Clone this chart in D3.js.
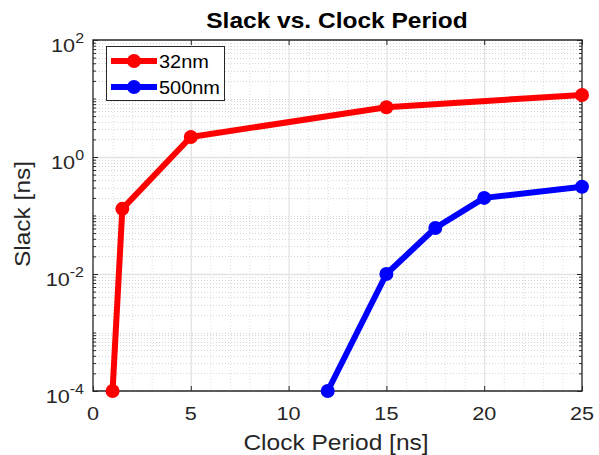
<!DOCTYPE html>
<html><head><meta charset="utf-8">
<script src="https://cdn.jsdelivr.net/npm/d3@7"></script>
<style>body{margin:0;background:#fff}svg{display:block}</style>
</head><body><svg id="chart" width="599" height="455"></svg>
<script>
// Slack measured at each clock period, per technology node
const clockPeriod32 = [1, 1.5, 5, 15, 25];
const slack32 = [1e-4, 0.13, 2.2, 7.1, 11.5];
const clockPeriod500 = [12, 15, 17.5, 20, 25];
const slack500 = [1e-4, 0.01, 0.061, 0.2, 0.31];
const seriesNames = ["32nm", "500nm"];
const seriesColors = ["#ff0000", "#0000ff"];
const xTicks = [0, 5, 10, 15, 20, 25];
const yTickExponents = [-4, -2, 0, 2];

const FONT = "'Liberation Sans', Arial, Helvetica, sans-serif";
const SX = 1.14;          // horizontal glyph stretch of the lettering
const AXIS = "#262626";

const svg = d3.select("#chart");
const box = {l: 93, r: 582, t: 40, b: 391};
const x = d3.scaleLinear().domain([0, 25]).range([box.l, box.r]);
const y = d3.scaleLog().domain([1e-4, 1e2]).range([box.b, box.t]);

// text helper: positioned via transform so it can be widened
function txt(g, px, py, s, size, anchor, weight, rot) {
  return g.append("text")
    .attr("transform", `translate(${px},${py})${rot ? ` rotate(${rot})` : ""} scale(${SX},1)`)
    .attr("text-anchor", anchor || "middle")
    .attr("font-family", FONT)
    .attr("font-size", size)
    .attr("font-weight", weight || "normal")
    .attr("fill", "#262626")
    .text(s);
}

// grid values
const majorY = yTickExponents.map(e => Math.pow(10, e));
const minorY = [];
for (let d = -4; d < 2; d++) {
  for (let k = 1; k <= 9; k++) {
    const v = k * Math.pow(10, d);
    if (k === 1 && yTickExponents.includes(d)) continue;
    minorY.push(v);
  }
}
const minorX = d3.range(1, 25).filter(v => v % 5 !== 0);

const grid = svg.append("g");
// minor grid (dotted)
grid.selectAll("line.mx").data(minorX).join("line")
  .attr("x1", d => x(d) + 0.5).attr("x2", d => x(d) + 0.5)
  .attr("y1", box.t).attr("y2", box.b)
  .attr("stroke", "#e0e0e0").attr("stroke-width", 1).attr("stroke-dasharray", "1,2");
grid.selectAll("line.my").data(minorY).join("line")
  .attr("x1", box.l).attr("x2", box.r)
  .attr("y1", d => Math.round(y(d)) + 0.5).attr("y2", d => Math.round(y(d)) + 0.5)
  .attr("stroke", "#d6d6d6").attr("stroke-width", 1).attr("stroke-dasharray", "1,2");
// major grid (solid light)
grid.selectAll("line.Mx").data(xTicks.slice(1, -1)).join("line")
  .attr("x1", d => x(d) + 0.5).attr("x2", d => x(d) + 0.5)
  .attr("y1", box.t).attr("y2", box.b)
  .attr("stroke", "#e3e3e3").attr("stroke-width", 1.3);
grid.selectAll("line.My").data(majorY.slice(1, -1)).join("line")
  .attr("x1", box.l).attr("x2", box.r)
  .attr("y1", d => Math.round(y(d)) + 0.5).attr("y2", d => Math.round(y(d)) + 0.5)
  .attr("stroke", "#e3e3e3").attr("stroke-width", 1.3);

// tick marks from d3 axes (inward, on all four sides)
function ticks(axis, tx, ty) {
  const g = svg.append("g").attr("transform", `translate(${tx},${ty})`).call(axis);
  g.select(".domain").remove();
  g.selectAll(".tick line").attr("stroke", AXIS).attr("stroke-width", 1);
  g.selectAll(".tick text").remove();
  return g;
}
ticks(d3.axisBottom(x).tickValues(xTicks).tickSize(-5).tickFormat(""), 0, box.b);
ticks(d3.axisTop(x).tickValues(xTicks).tickSize(-5).tickFormat(""), 0, box.t);
ticks(d3.axisLeft(y).tickValues(majorY).tickSize(-5).tickFormat(""), box.l, 0);
ticks(d3.axisRight(y).tickValues(majorY).tickSize(-5).tickFormat(""), box.r, 0);
ticks(d3.axisLeft(y).tickValues(minorY).tickSize(-3).tickFormat(""), box.l, 0);
ticks(d3.axisRight(y).tickValues(minorY).tickSize(-3).tickFormat(""), box.r, 0);

// axes box
svg.append("path")
  .attr("d", `M${box.l},${box.t}H${box.r}V${box.b}H${box.l}Z`)
  .attr("fill", "none").attr("stroke", AXIS).attr("stroke-width", 1.3);

// x tick labels
xTicks.forEach(v => txt(svg, x(v), 420, String(v), 19, "middle"));

// y tick labels: 10 with superscript exponent
yTickExponents.forEach(e => {
  const py = y(Math.pow(10, e));
  const t = svg.append("text")
    .attr("transform", `translate(84,${py + 11.5}) scale(${SX},1)`)
    .attr("text-anchor", "end")
    .attr("font-family", FONT).attr("fill", "#262626");
  t.append("tspan").attr("font-size", 19).text("10");
  t.append("tspan").attr("font-size", 14).attr("dy", -8.5).text(String(e));
});

// axis labels and title
txt(svg, 336, 450, "Clock Period [ns]", 21.5, "middle");
txt(svg, 30, 214, "Slack [ns]", 21.5, "middle", "normal", -90);
txt(svg, 337, 28, "Slack vs. Clock Period", 21.5, "middle", "bold").attr("fill", "#000");

// series
const series = [
  {name: seriesNames[0], color: seriesColors[0], xs: clockPeriod32, ys: slack32},
  {name: seriesNames[1], color: seriesColors[1], xs: clockPeriod500, ys: slack500}
];
const line = d3.line().x(d => x(d[0])).y(d => y(d[1]));
series.forEach(s => {
  const pts = s.xs.map((v, i) => [v, s.ys[i]]);
  const g = svg.append("g");
  g.append("path").attr("d", line(pts))
    .attr("fill", "none").attr("stroke", s.color)
    .attr("stroke-width", 6).attr("stroke-linejoin", "round");
  g.selectAll("circle").data(pts).join("circle")
    .attr("cx", d => x(d[0])).attr("cy", d => y(d[1])).attr("r", 7)
    .attr("fill", s.color);
});

// legend
const lg = svg.append("g");
lg.append("rect").attr("x", 106.5).attr("y", 46.5).attr("width", 118).attr("height", 54)
  .attr("fill", "#fff").attr("stroke", AXIS).attr("stroke-width", 1);
series.forEach((s, i) => {
  const ly = 61 + i * 26;
  lg.append("line").attr("x1", 111).attr("x2", 157).attr("y1", ly).attr("y2", ly)
    .attr("stroke", s.color).attr("stroke-width", 6);
  lg.append("circle").attr("cx", 134).attr("cy", ly).attr("r", 7).attr("fill", s.color);
  txt(lg, 159, ly + 7, s.name, 17.5, "start").attr("fill", "#000");
});
</script>
</body></html>
